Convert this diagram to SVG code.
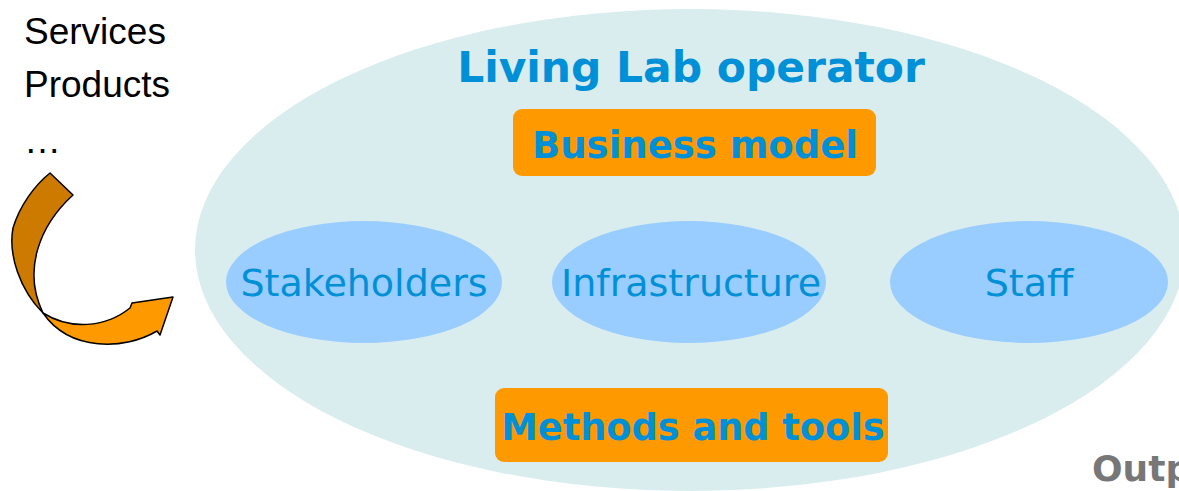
<svg xmlns="http://www.w3.org/2000/svg" width="1179" height="491" viewBox="0 0 1179 491">
<style>
.big{fill:#D9EDEE}
.sm{fill:#99CCFF}
.box{fill:#FF9900}
.bt{font-family:"DejaVu Sans",Verdana,sans-serif;font-weight:bold;fill:#0090D8;text-anchor:middle}
.rt{font-family:"DejaVu Sans",Verdana,sans-serif;fill:#0090D8;text-anchor:middle;font-size:38px}
.lt{font-family:"Liberation Sans",Arial,sans-serif;font-size:37px;fill:#000}
</style>
<rect width="1179" height="491" fill="#fff"/>
<g id="operator">
<ellipse class="big" cx="690" cy="250" rx="495" ry="241"/>
<text class="bt" x="691" y="82" font-size="42.4">Living Lab operator</text>
</g>
<g id="business-model">
<rect class="box" x="513" y="109" width="363" height="67" rx="9"/>
<text class="bt" x="695" y="158" font-size="37">Business model</text>
</g>
<g id="stakeholders">
<ellipse class="sm" cx="364" cy="282" rx="138" ry="61"/>
<text class="rt" x="364" y="296">Stakeholders</text>
</g>
<g id="infrastructure">
<ellipse class="sm" cx="689" cy="282" rx="137" ry="61"/>
<text class="rt" x="691" y="296">Infrastructure</text>
</g>
<g id="staff">
<ellipse class="sm" cx="1029" cy="282" rx="139" ry="61"/>
<text class="rt" x="1029" y="296">Staff</text>
</g>
<g id="methods-tools">
<rect class="box" x="495" y="388" width="393" height="74" rx="9"/>
<text class="bt" x="693" y="440" font-size="36.7">Methods and tools</text>
</g>
<g id="output">
<text x="1092" y="481" font-family="DejaVu Sans,Verdana,sans-serif" font-weight="bold" font-size="36" fill="#777">Outp</text>
</g>
<g id="inputs">
<text class="lt" x="24" y="44">Services</text>
<text class="lt" x="24" y="97">Products</text>
<text class="lt" x="24" y="153">…</text>
</g>
<g id="connectors">
<path d="M50,173 L73,195 C40,225 22,270 43,313 C20,290 8,255 13,228 C20,205 35,185 50,173 Z" fill="#CC7A00" stroke="#000" stroke-width="1.5" stroke-linejoin="round"/>
<path d="M43,313 C70,330 105,328 130,308 L132,303 L173,297 L160,335 L157,331 C125,350 70,352 43,313 Z" fill="#FF9900" stroke="#000" stroke-width="1.5" stroke-linejoin="round"/>
</g>
</svg>
